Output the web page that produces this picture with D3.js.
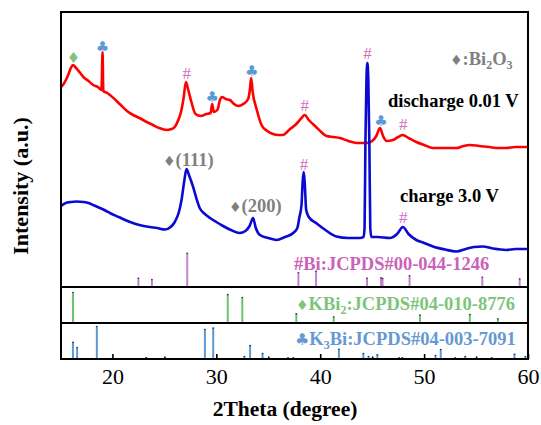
<!DOCTYPE html>
<html><head><meta charset="utf-8">
<script src="https://cdn.jsdelivr.net/npm/d3@7"></script>
<style>body{margin:0;background:#fff} svg{display:block} text{font-family:"Liberation Serif","Times New Roman",serif}</style>
</head><body>
<svg id="c" width="541" height="425"></svg>
<script>
// ---- data ----
const redTheta = [15.05,15.3,15.7,16.0,16.2,16.5,16.9,17.2,17.7,18.15,18.6,18.95,19.05,19.12,19.5,20.1,20.7,21.4,22.0,22.6,23.3,23.9,24.5,25.2,25.7,26.0,26.3,26.6,26.85,27.07,27.3,27.6,28.0,28.5,29.05,29.45,29.6,29.75,30.1,30.35,30.55,30.9,31.3,31.7,32.1,32.6,33.06,33.25,33.35,33.5,33.9,34.35,34.9,35.45,36.0,36.4,37.1,37.7,38.2,38.5,38.9,39.6,40.1,40.6,41.3,41.9,42.7,43.5,44.45,45.0,45.4,45.75,46.05,46.4,47.0,47.5,47.95,48.5,49.25,50.0,50.85,52.0,53.1,53.8,54.4,55.3,56.3,57.1,57.9,58.8,59.8,60.0];
const redInt   = [200,203,211,219,222,219,214,210,206,202,200,197,235,196,194,189,183,176,172,169,165,162,159,157,158,160,166,175,189,205,197,185,173,171,173,174,183,175,177,187,190,188,187,183,181,183,188,199,209,195,177,162,156,153,152,152,158,163,169,172,167,160,155,151,150,149,146,144,144,146,151,159,151,146,147,150,152,149,145,142,139,139,139,141,142,141,140,139,139,140,140,140];
const blueTheta = [15.05,15.5,16.0,16.55,17.2,17.7,18.15,18.8,19.4,19.75,20.6,21.7,22.6,23.6,24.3,25.05,25.6,26.0,26.4,26.65,26.9,27.13,27.4,27.77,28.1,28.4,28.9,29.4,30.0,30.65,31.4,32.25,32.8,33.2,33.54,33.8,34.2,35.0,35.8,36.6,37.4,37.8,38.0,38.2,38.32,38.42,38.52,38.65,38.9,39.6,40.5,41.55,42.7,43.8,44.17,44.27,44.35,44.45,44.54,44.63,44.73,44.82,44.92,45.5,46.7,47.4,47.96,48.5,49.25,50.0,50.85,52.0,53.1,54.0,54.8,55.65,56.6,57.9,58.8,59.8,60.0];
const blueInt   = [81,84,85,85.5,85,84,82,79,76,74,70,65,62,60,59,57.5,60,65,75,87,105,118,111,100,88,79,73,69,65,61,57,54,56,61,69,59,52,49,47,50,54,59,70,82,107,115,102,77,70,64,57,50.5,49,49,50,59,144,207,224,207,144,59,50,50,49,53,60,53,47,44,40.5,37.5,35.5,38,40,40.5,38.5,37,38,38,38];

const biPos = [22.5,23.8,27.2,37.9,39.6,44.5,45.85,46.0,48.6,55.6,59.2];
const biInt = [27,23,100,43,47,27,28,26,34,30,25];
const kbi2Pos = [16.2,31.1,32.5,37.7,41.3,49.6,54.4,57.1];
const kbi2Int = [100,93,84,31,21,27,29,15];
const k3biPos = [16.2,16.6,18.5,23.25,28.9,29.7,32.7,33.25,34.45,36.9,37.4,41.8,44.15,44.65,45.5,47.6,47.9,51.1,51.6,53.0,53.96,56.5,58.7,59.75];
const k3biInt = [52,36,100,6,91,95,9,42,18,5,5,31,18,9,14,5,5,12,30,5,9,5,16,9];

const xTicks = [20,30,40,50,60];
const xMinorTicks = [25,35,45,55];

// phase markers placed over peaks: position, level, symbol
const markTheta = [16.25,19.05,27.15,29.6,33.4,38.5,44.54,45.85,48.0,38.43,48.0];
const markLevel = [229,240,213,190,216,181,233,166,162,122,69];
const markSym   = ['♦','♣','#','♣','♣','#','#','♣','#','#','#'];

// ---- drawing ----
const svg = d3.select('#c');
const L = 61, R = 528, T = 12, B1 = 287, B2 = 323, B3 = 359;
const x = d3.scaleLinear().domain([15.05, 60]).range([L, R]);
const y = d3.scaleLinear().domain([0, 275]).range([B1, T]);
const yBi = d3.scaleLinear().domain([0, 100]).range([B1, B1 - 34.3]);
const yKbi2 = d3.scaleLinear().domain([0, 100]).range([B2, B2 - 31]);
const yK3bi = d3.scaleLinear().domain([0, 100]).range([B3, B3 - 33]);

const C = {red:'#ff0000', blue:'#0a0ad2', pink:'#cc62b8', pinkStick:'#c383cf',
  green:'#80c47c', greenStick:'#6cc36c', lblue:'#6699d2', lblueStick:'#5b9bd5', gray:'#808080'};

svg.append('defs').append('clipPath').attr('id','cp').append('rect')
  .attr('x', L).attr('y', T).attr('width', R - L).attr('height', B1 - T);

const line = d3.line().x(d => x(d[0])).y(d => y(d[1])).curve(d3.curveMonotoneX);
const g = svg.append('g').attr('clip-path','url(#cp)');
g.append('path').datum(d3.zip(redTheta, redInt)).attr('d', line)
  .attr('fill','none').attr('stroke', C.red).attr('stroke-width', 2.6).attr('stroke-linejoin','round');
g.append('path').datum(d3.zip(blueTheta, blueInt)).attr('d', line)
  .attr('fill','none').attr('stroke', C.blue).attr('stroke-width', 2.6).attr('stroke-linejoin','round');

function sticks(pos, val, ys, base, color) {
  const gg = svg.append('g');
  gg.selectAll('line').data(d3.zip(pos, val)).join('line')
    .attr('x1', d => x(d[0])).attr('x2', d => x(d[0]))
    .attr('y1', base).attr('y2', d => ys(d[1]))
    .attr('stroke', color).attr('stroke-width', 2);
  gg.selectAll('circle').data(d3.zip(pos, val)).join('circle')
    .attr('cx', d => x(d[0])).attr('cy', d => ys(d[1]) + 0.5).attr('r', 0.8).attr('fill', '#333');
}
sticks(biPos, biInt, yBi, B1, C.pinkStick);
sticks(kbi2Pos, kbi2Int, yKbi2, B2, C.greenStick);
sticks(k3biPos, k3biInt, yK3bi, B3, C.lblueStick);

// markers
const symColor = {'♦': C.green, '♣': C.lblueStick, '#': '#d070c0'};
svg.append('g').selectAll('text').data(d3.range(markTheta.length)).join('text')
  .attr('x', i => x(markTheta[i])).attr('y', i => y(markLevel[i]))
  .attr('text-anchor','middle').attr('dominant-baseline','central')
  .style('font-family', i => markSym[i] === '#' ? '"Liberation Serif",serif' : '"DejaVu Sans",sans-serif')
  .style('font-size', i => markSym[i] === '#' ? '17px' : '15px')
  .attr('fill', i => symColor[markSym[i]])
  .attr('dy', i => markSym[i] === '#' ? '-0.5' : '0')
  .text(i => markSym[i]);

// frame
const fr = svg.append('g').attr('stroke','#000').attr('stroke-width',2).attr('fill','none');
fr.append('rect').attr('x', L).attr('y', T).attr('width', R - L).attr('height', B3 - T);
fr.append('line').attr('x1', L).attr('x2', R).attr('y1', B1).attr('y2', B1);
fr.append('line').attr('x1', L).attr('x2', R).attr('y1', B2).attr('y2', B2);

// x axis
const ax = svg.append('g').attr('transform', `translate(0,${B3})`)
  .call(d3.axisBottom(x).tickValues(xTicks).tickSize(-5).tickPadding(9).tickFormat(d3.format('d')));
ax.select('.domain').remove();
ax.selectAll('line').attr('stroke-width', 1.6);
ax.selectAll('text').style('font-family','"Liberation Serif",serif').style('font-size','22px').attr('fill','#000');
const axm = svg.append('g').attr('transform', `translate(0,${B3})`)
  .call(d3.axisBottom(x).tickValues(xMinorTicks).tickSize(-2.5).tickFormat(''));
axm.select('.domain').remove();
axm.selectAll('line').attr('stroke-width', 1.6);

// titles
svg.append('text').attr('x', 285).attr('y', 416).attr('text-anchor','middle')
  .style('font-size','21.5px').style('font-weight','bold').text('2Theta (degree)');
svg.append('text').attr('transform','translate(28,186) rotate(-90)').attr('text-anchor','middle')
  .style('font-size','22px').style('font-weight','bold').text('Intensity (a.u.)');

// curve labels
function lbl(xp, yp, color, parts) {
  const t = svg.append('text').attr('x', xp).attr('y', yp).attr('fill', color)
    .style('font-size','18.5px').style('font-weight','bold');
  parts.forEach(p => {
    const s = t.append('tspan').text(p.t);
    if (p.sym) s.style('font-family','"DejaVu Sans",sans-serif').style('font-size', p.size || '14px').style('font-weight','normal');
    if (p.sub) s.style('font-size','12px').attr('dy', 4);
    if (p.up) s.attr('dy', -4);
  });
  return t;
}
lbl(388, 106.5, '#000', [{t:'discharge 0.01 V'}]);
lbl(400, 201.5, '#000', [{t:'charge 3.0 V'}]);
lbl(450, 65, C.gray, [{t:'♦', sym:true}, {t:':Bi'}, {t:'2', sub:true}, {t:'O', up:true}, {t:'3', sub:true}]);
lbl(163, 166, C.gray, [{t:'♦', sym:true}, {t:'(111)'}]);
lbl(229, 211.5, C.gray, [{t:'♦', sym:true}, {t:'(200)'}]);
lbl(294, 270, C.pink, [{t:'#Bi:JCPDS#00-044-1246'}]);
lbl(296, 310, C.green, [{t:'♦', sym:true}, {t:'KBi'}, {t:'2', sub:true}, {t:':JCPDS#04-010-8776', up:true}]);
lbl(295, 345, C.lblue, [{t:'♣', sym:true, size:'16px'}, {t:'K'}, {t:'3', sub:true}, {t:'Bi:JCPDS#04-003-7091', up:true}]);
</script>
</body></html>
